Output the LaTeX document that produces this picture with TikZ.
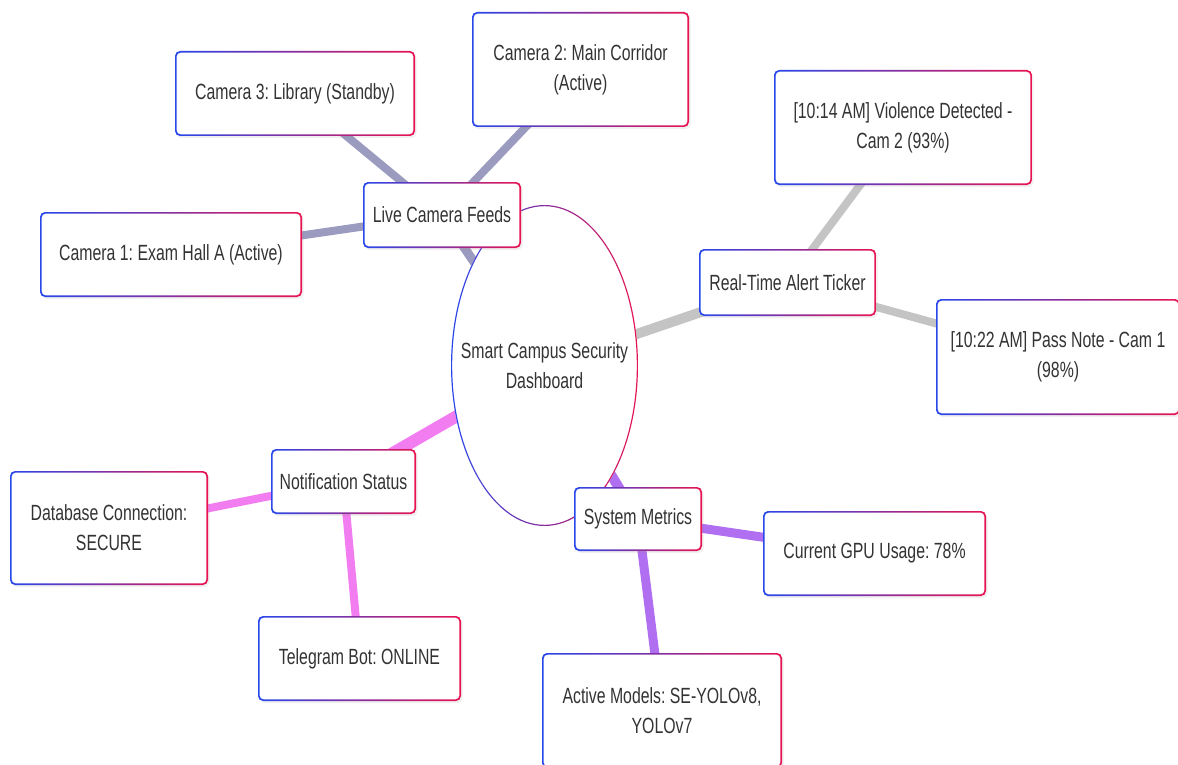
\documentclass[tikz,border=0pt]{standalone}
\usepackage{fontspec}
\setmainfont{Liberation Sans}[FakeStretch=0.72]
\usetikzlibrary{shapes.geometric,shadows,backgrounds}

\definecolor{edgeblue}{RGB}{40,72,235}
\definecolor{edgered}{RGB}{232,20,82}
\definecolor{camlink}{RGB}{155,155,192}
\definecolor{alertlink}{RGB}{196,196,196}
\definecolor{notelink}{RGB}{242,125,240}
\definecolor{metriclink}{RGB}{176,110,240}
\definecolor{txt}{RGB}{51,51,51}

\tikzset{
  card/.style={rectangle, rounded corners=5pt, fill=white, text=txt, align=center, inner sep=0pt,
    drop shadow={opacity=0.12, shadow xshift=1.5pt, shadow yshift=-2pt},
    path picture={\shade[left color=edgeblue, right color=edgered, even odd rule]
      (path picture bounding box.south west) rectangle (path picture bounding box.north east)
      [rounded corners=4pt] ([shift={(1.6pt,1.6pt)}]path picture bounding box.south west)
      rectangle ([shift={(-1.6pt,-1.6pt)}]path picture bounding box.north east);}},
  hub/.style={ellipse, fill=white, text=txt, align=center, inner xsep=-40pt, inner ysep=0pt,
    minimum width=187pt, minimum height=321pt,
    path picture={\shade[left color=edgeblue, right color=edgered, even odd rule]
      (path picture bounding box.center) ellipse [x radius=94pt, y radius=161pt]
      (path picture bounding box.center) ellipse [x radius=92.3pt, y radius=159.3pt];}},
  link/.style={line width=#1, line cap=butt},
}

\begin{document}
\frenchspacing
\begin{tikzpicture}[x=1pt, y=-1pt, font=\fontsize{22pt}{30pt}\selectfont\frenchspacing]
    \useasboundingbox (0,0) rectangle (1178,765);

    % Central node
    \node[hub] (root) at (544.5,365.5) {Smart Campus Security\\Dashboard};

    % Camera branch
    \node[card, minimum width=158pt, minimum height=66pt] (feeds) at (442,215) {Live Camera Feeds};
    \node[card, minimum width=240pt, minimum height=85pt] (cam3) at (295,93.5) {Camera 3: Library (Standby)};
    \node[card, minimum width=217pt, minimum height=115pt] (cam2) at (580.5,69.5) {Camera 2: Main Corridor\\(Active)};
    \node[card, minimum width=262pt, minimum height=85pt] (cam1) at (171,254.5) {Camera 1: Exam Hall A (Active)};

    % Alert branch
    \node[card, minimum width=177pt, minimum height=67pt] (ticker) at (787.5,282.5) {Real-Time Alert Ticker};
    \node[card, minimum width=258pt, minimum height=115pt] (alert1) at (903,127.5) {[10:14 AM] Violence Detected -\\Cam 2 (93\%)};
    \node[card, minimum width=244pt, minimum height=116pt] (alert2) at (1058,357) {[10:22 AM] Pass Note - Cam 1\\(98\%)};

    % Notification branch
    \node[card, minimum width=145pt, minimum height=65pt] (notify) at (343.5,481.5) {Notification Status};
    \node[card, minimum width=198pt, minimum height=114pt] (db) at (109,528) {Database Connection:\\SECURE};
    \node[card, minimum width=203pt, minimum height=85pt] (bot) at (359.5,658.5) {Telegram Bot: ONLINE};

    % Metrics branch
    \node[card, minimum width=128pt, minimum height=64pt] (metrics) at (638,519) {System Metrics};
    \node[card, minimum width=223pt, minimum height=85pt] (gpu) at (874.5,553.5) {Current GPU Usage: 78\%};
    \node[card, minimum width=240pt, minimum height=115pt] (models) at (662,710.5) {Active Models: SE-YOLOv8,\\YOLOv7};

    % Links behind the boxes
    \begin{scope}[on background layer]
        \draw[link=9pt, camlink] (root.center) -- (feeds.center);
        \draw[link=8pt, camlink] (feeds.center) -- (cam3.center);
        \draw[link=8pt, camlink] (feeds.center) -- (cam2.center);
        \draw[link=8pt, camlink] (feeds.center) -- (cam1.center);

        \draw[link=10pt, alertlink] (root.center) -- (ticker.center);
        \draw[link=8pt, alertlink] (ticker.center) -- (alert1.center);
        \draw[link=8pt, alertlink] (ticker.center) -- (alert2.center);

        \draw[link=12pt, notelink] (root.center) -- (notify.center);
        \draw[link=8pt, notelink] (notify.center) -- (db.center);
        \draw[link=8pt, notelink] (notify.center) -- (bot.center);

        \draw[link=10pt, metriclink] (root.center) -- (metrics.center);
        \draw[link=9pt, metriclink] (metrics.center) -- (gpu.center);
        \draw[link=9pt, metriclink] (metrics.center) -- (models.center);
    \end{scope}
\end{tikzpicture}
\end{document}
